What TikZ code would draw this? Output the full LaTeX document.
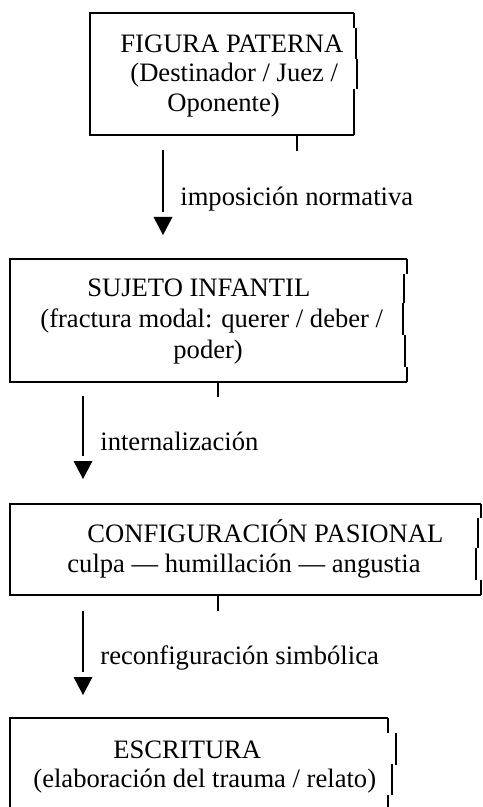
\documentclass[tikz,border=0pt]{standalone}
\usepackage{fontspec}
\setmainfont{Liberation Serif}
\usetikzlibrary{arrows.meta}

\tikzset{
 boxline/.style={line width=1pt},
 flow/.style={line width=1pt,shorten >=11.5pt},
 txt/.style={anchor=base west,inner sep=0pt,font=\fontsize{13.3}{15}\selectfont}
}

\begin{document}
\begin{tikzpicture}[x=0.5pt,y=-0.5pt]
 \useasboundingbox (0,0) rectangle (482,807);
 % boxes
 \draw[boxline] (354,13) -- (90,13) -- (90,135) -- (354,135);
 \draw[boxline] (354,13) -- (354,28) (356,28) -- (356,59) (357,59) -- (357,89) (354,89) -- (354,135);
 \draw[boxline] (297,135) -- (297,151);
 \draw[boxline] (407,259) -- (10,259) -- (10,382) -- (407,382);
 \draw[boxline] (407,259) -- (407,274) (404,274) -- (404,303) (403,303) -- (403,335) (405,335) -- (405,367) (407,367) -- (407,382);
 \draw[boxline] (218,382) -- (218,397);
 \draw[boxline] (481,504) -- (10,504) -- (10,595) -- (481,595);
 \draw[boxline] (481,504) -- (481,518) (478,518) -- (478,548) (476,548) -- (476,580) (481,580) -- (481,595);
 \draw[boxline] (218,595) -- (218,611);
 \draw[boxline] (388,718) -- (10,718) -- (10,807);
 \draw[boxline] (388,718) -- (388,733) (396,733) -- (396,765) (392,764) -- (392,795) (388,795) -- (388,807);
 % texts
 \node[txt] (fig1) at (120,53) {FIGURA PATERNA};
 \node[txt] (fig2) at (130,82) {(Destinador / Juez /};
 \node[txt] (fig3) at (167,112) {Oponente)};
 \node[txt] (suj1) at (87,297) {SUJETO INFANTIL};
 \node[txt] (suj2) at (40,328) {(fractura modal: querer / deber /};
 \node[txt] (suj3) at (173,358) {poder)};
 \node[txt] (conf1) at (87,542) {CONFIGURACIÓN PASIONAL};
 \node[txt] (conf2) at (67,572) {culpa — humillación — angustia};
 \node[txt] (esc1) at (113,758) {ESCRITURA};
 \node[txt] (esc2) at (33,787) {(elaboración del trauma / relato)};
 % arrows
 \coordinate (fig_out) at (163,150);
 \coordinate (suj_in) at (163,235);
 \coordinate (suj_out) at (83,396);
 \coordinate (conf_in) at (83,479);
 \coordinate (conf_out) at (83,611);
 \coordinate (esc_in) at (83,695);
 \draw[flow] (fig_out) -- (suj_in);
 \draw[flow] (suj_out) -- (conf_in);
 \draw[flow] (conf_out) -- (esc_in);
 \foreach \t in {suj_in,conf_in,esc_in}
  \fill (\t) -- ++(-9.5,-18) -- ++(19,0) -- cycle;
 \node[txt] (lab1) at (180,206) {imposición normativa};
 \node[txt] (lab2) at (100,450) {internalización};
 \node[txt] (lab3) at (100,664) {reconfiguración simbólica};
\end{tikzpicture}
\end{document}
